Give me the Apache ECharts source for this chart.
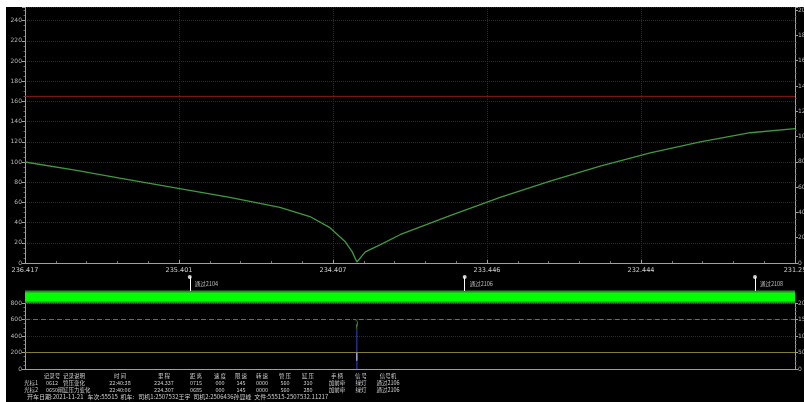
<!DOCTYPE html>
<html>
<head>
<meta charset="utf-8">
<script src="https://cdn.jsdelivr.net/npm/echarts@6/dist/echarts.min.js"></script>
<style>
    html, body { margin: 0; padding: 0; background: #fff; overflow: hidden; }
    #chart { position: absolute; left: 6px; top: 7px; width: 798px; height: 395px; background: #000; }
</style>
</head>
<body>
<div id="chart"></div>
<script>
// x 轴刻度 (里程)
const xTickLabels = ['236.417', '235.401', '234.407', '233.446', '232.444', '231.25'];

// 速度曲线 (位置索引 0~1000)
const curveIdx = [0, 65, 123, 199, 266, 331, 370, 396, 416, 425, 431, 442, 461, 487, 552, 617, 682, 747, 812, 877, 942, 1000];
const curveVal = [100, 92, 84, 74, 65, 55, 46, 35, 21, 11, 1, 11, 18, 28, 47, 65, 81, 96, 109, 120, 129, 133];

// 限速线
const limitValue = 165;

// 信号机标记
const flagIdx = [214, 571, 948];
const flagNames = ['通过2104', '通过2106', '通过2108'];

// 下方压力图
const pipeIdx = [0, 430, 431, 432, 1000];
const pipeVal = [600, 600, 480, 600, 600];
const cylVal = 200;
const cursorIdx = 431;
const cursorVal = [0, 480];

// 底部表格
const headers = ['记录号', '记录说明', '时 间', '里 程', '距 离', '速 度', '限 速', '转 速', '管 压', '缸 压', '手 柄', '信 号', '信号机'];
const row1 = ['光标1', '0612', '管压变化', '22:40:38', '224.337', '0715', '000', '145', '0000', '560', '310', '加前牵', '绿灯', '通过2106'];
const row2 = ['光标2', '0650', '闸缸压力变化', '22:40:06', '224.307', '0685', '000', '145', '0000', '560', '280', '加前牵', '绿灯', '通过2106'];
const footer = '开车日期:2021-11-21   车次:55515  机车:   司机1:2507532王宇  司机2:2506436孙显峰  文件:55515-2507532.11217';

const colX = [25, 46, 68, 114, 158, 190, 214, 235, 256, 279, 302, 331, 355, 382];
const FONT = 'DejaVu Sans';
const CJK = 'Noto Sans CJK SC';

let graphics = [];
headers.forEach((h, i) => {
    graphics.push({ type: 'text', style: { text: h, x: colX[i + 1], y: 366, fill: '#cfcfcf', fontSize: 5.5, fontFamily: CJK, textAlign: 'center' } });
});
[row1, row2].forEach((row, r) => {
    row.forEach((v, i) => {
        graphics.push({ type: 'text', style: { text: v, x: colX[i], y: 373 + r * 7, fill: '#cfcfcf', fontSize: 5.5, fontFamily: CJK, textAlign: 'center' } });
    });
});
graphics.push({ type: 'text', style: { text: footer, x: 21, y: 386.5, fill: '#cfcfcf', fontSize: 6, fontFamily: CJK } });

const axisColor = '#a0a0a0';
const labelStyle = { color: '#b8b8b8', fontSize: 6, fontFamily: FONT };

function xAxis(grid, showLabel) {
    return {
        type: 'value', gridIndex: grid, min: 0, max: 1000, interval: 200,
        show: grid !== 1,
        axisLine: { show: true, lineStyle: { color: axisColor } },
        axisTick: { show: showLabel, inside: true, length: 3, lineStyle: { color: axisColor } },
        minorTick: { show: showLabel, splitNumber: 5, length: 2, lineStyle: { color: '#777' } },
        axisLabel: {
            show: showLabel, color: '#d0d0d0', fontSize: 6.5, fontFamily: FONT, margin: 4,
            formatter: v => xTickLabels[Math.round(v / 200)]
        },
        splitLine: { show: showLabel, lineStyle: { color: '#2a2a2a', type: 'dotted' } }
    };
}

function yAxis(grid, pos, min, max, interval, split, showMax) {
    return {
        type: 'value', gridIndex: grid, position: pos, min: min, max: max, interval: interval,
        axisLine: { show: true, lineStyle: { color: axisColor } },
        axisTick: { show: true, length: 3, lineStyle: { color: axisColor } },
        minorTick: { show: true, splitNumber: 4, length: 1.5, lineStyle: { color: '#666' } },
        axisLabel: Object.assign({ showMaxLabel: !!showMax, margin: 3 }, labelStyle),
        splitLine: { show: split, lineStyle: { color: '#2c2c2c', type: 'dotted' } }
    };
}

const option = {
    backgroundColor: '#000',
    animation: false,
    graphic: graphics,
    grid: [
        { left: 19, right: 9, top: 0, height: 256, outerBoundsMode: 'none', containLabel: false },
        { left: 19, right: 9, top: 265, height: 32, outerBoundsMode: 'none', containLabel: false },
        { left: 19, right: 9, top: 296, height: 66, outerBoundsMode: 'none', containLabel: false }
    ],
    xAxis: [xAxis(0, true), xAxis(1, false), xAxis(2, false)],
    yAxis: [
        yAxis(0, 'left', 0, 253.5, 20, true),
        yAxis(0, 'right', 0, 202.5, 20, false),
        { type: 'value', gridIndex: 1, min: 0, max: 4, show: false },
        yAxis(2, 'left', 0, 800, 200, true, true),
        yAxis(2, 'right', 0, 200, 50, false, true)
    ],
    series: [
        {
            name: '限速', type: 'line', xAxisIndex: 0, yAxisIndex: 0, symbol: 'none',
            data: [[0, limitValue], [1000, limitValue]],
            lineStyle: { color: '#8a1c1c', width: 1 }
        },
        {
            name: '速度', type: 'line', xAxisIndex: 0, yAxisIndex: 0, symbol: 'none',
            data: curveIdx.map((x, i) => [x, curveVal[i]]),
            lineStyle: { color: '#3f9a3f', width: 1.3 }
        },
        {
            name: '区段边', type: 'line', xAxisIndex: 1, yAxisIndex: 2, symbol: 'none',
            data: [[0, 0.875], [1000, 0.875]],
            lineStyle: { color: '#2f8a2f', width: 13, cap: 'butt' }
        },
        {
            name: '区段', type: 'line', xAxisIndex: 1, yAxisIndex: 2, symbol: 'none',
            data: [[0, 0.875], [1000, 0.875]],
            lineStyle: { color: '#00ff00', width: 9, cap: 'butt' }
        },
        {
            name: '信号机', type: 'scatter', xAxisIndex: 1, yAxisIndex: 2,
            symbol: 'circle', symbolSize: 4,
            itemStyle: { color: '#fff' },
            data: flagIdx.map((x, i) => ({ value: [x, 3.375], name: flagNames[i] })),
            label: {
                show: true, position: 'right', distance: 3, offset: [0, 7],
                formatter: p => p.name, color: '#e0e0e0', fontSize: 5.5, fontFamily: CJK
            },
            markLine: {
                symbol: 'none', silent: true, label: { show: false },
                lineStyle: { color: '#fff', width: 1, type: 'solid' },
                data: flagIdx.map(x => [{ coord: [x, 1.625] }, { coord: [x, 3.375] }])
            }
        },
        {
            name: '管压', type: 'line', xAxisIndex: 2, yAxisIndex: 3, symbol: 'none',
            data: pipeIdx.map((x, i) => [x, pipeVal[i]]),
            lineStyle: { color: '#3c8c3c', width: 1, type: [5, 3] }
        },
        {
            name: '缸压', type: 'line', xAxisIndex: 2, yAxisIndex: 3, symbol: 'none',
            data: [[0, cylVal], [1000, cylVal]],
            lineStyle: { color: '#857d32', width: 1 }
        },
        {
            name: '光标', type: 'line', xAxisIndex: 2, yAxisIndex: 3, symbol: 'none',
            data: cursorVal.map(v => [cursorIdx, v]),
            lineStyle: { color: '#3448c8', width: 1 }
        },
        {
            name: '光标2', type: 'line', xAxisIndex: 2, yAxisIndex: 3, symbol: 'none',
            data: [[cursorIdx, 100], [cursorIdx, cylVal]],
            lineStyle: { color: '#e0e0e0', width: 1 }
        }
    ]
};

echarts.init(document.getElementById('chart')).setOption(option);
</script>
</body>
</html>
